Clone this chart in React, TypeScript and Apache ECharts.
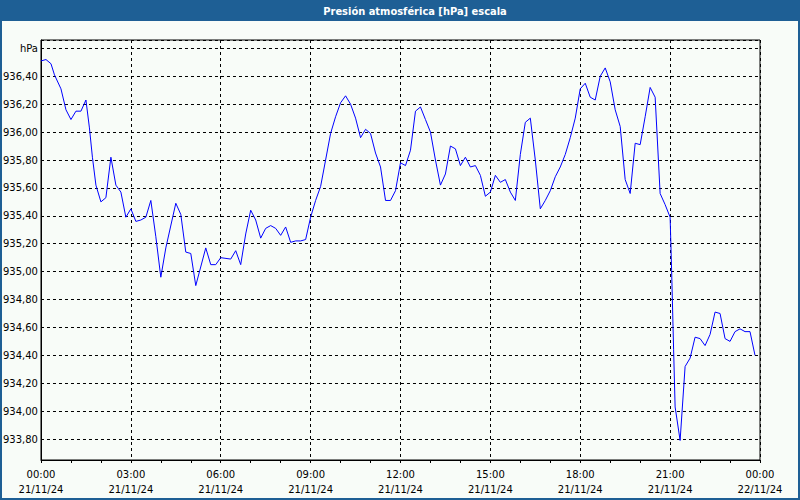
import React, { useEffect, useRef } from "react";
import * as echarts from "echarts";

const TITLE = "Presión atmosférica [hPa] escala";
const UNIT = "hPa";

// minutes since 21/11/24 00:00
const minutes: number[] = [
  0, 10, 20, 27, 40, 50, 60, 70, 80, 90, 97, 103, 110, 120, 130, 140, 150, 160, 170, 180,
  190, 200, 210, 220, 230, 240, 250, 270, 280, 290, 300, 310, 330, 340, 350, 360, 380, 390, 400, 410,
  420, 430, 440, 450, 460, 470, 480, 490, 500, 510, 520, 530, 540, 550, 560, 570, 580, 590, 600, 610,
  620, 630, 640, 650, 660, 670, 680, 690, 700, 710, 720, 730, 740, 750, 760, 770, 780, 790, 800, 810,
  820, 830, 840, 850, 860, 870, 880, 890, 900, 910, 920, 930, 940, 950, 960, 970, 980, 990, 1000, 1010,
  1020, 1030, 1040, 1050, 1060, 1070, 1080, 1090, 1100, 1110, 1120, 1130, 1140, 1150, 1160, 1170, 1180, 1190, 1200, 1210,
  1220, 1230, 1240, 1250, 1260, 1263, 1267, 1270, 1280, 1290, 1300, 1310, 1320, 1330, 1340, 1350, 1360, 1370, 1380, 1390,
  1400, 1410, 1420, 1430,
];

const pressure: number[] = [
  936.51, 936.52, 936.49, 936.41, 936.31, 936.16, 936.09, 936.15, 936.15, 936.23, 936.03, 935.82, 935.62, 935.5, 935.53, 935.82, 935.62, 935.57, 935.39, 935.45,
  935.36, 935.37, 935.39, 935.51, 935.25, 934.96, 935.17, 935.49, 935.41, 935.14, 935.13, 934.9, 935.17, 935.05, 935.05, 935.1, 935.09, 935.15, 935.05, 935.27,
  935.44, 935.37, 935.24, 935.31, 935.33, 935.31, 935.26, 935.32, 935.21, 935.22, 935.22, 935.23, 935.39, 935.51, 935.61, 935.8, 935.99, 936.11, 936.21, 936.26,
  936.2, 936.1, 935.96, 936.02, 935.99, 935.85, 935.75, 935.51, 935.51, 935.58, 935.78, 935.76, 935.87, 936.15, 936.18, 936.09, 936.0, 935.8, 935.62, 935.7,
  935.9, 935.88, 935.76, 935.82, 935.75, 935.76, 935.69, 935.54, 935.57, 935.69, 935.64, 935.66, 935.57, 935.51, 935.84, 936.07, 936.1, 935.8, 935.45, 935.51,
  935.58, 935.68, 935.75, 935.84, 935.96, 936.1, 936.31, 936.35, 936.25, 936.23, 936.4, 936.46, 936.36, 936.16, 936.04, 935.66, 935.56, 935.92, 935.91, 936.11,
  936.32, 936.25, 935.56, 935.48, 935.39, 935.01, 934.44, 934.03, 933.79, 934.32, 934.38, 934.53, 934.52, 934.47, 934.55, 934.71, 934.7, 934.52, 934.5, 934.57,
  934.59, 934.57, 934.57, 934.4,
];

const Y_MIN = 933.65;
const Y_MAX = 936.66;
const X_MIN = 0;
const X_MAX = 1440;
const dayLabels: string[] = ["21/11/24", "22/11/24"];

const FONT = "DejaVu Sans";
const BLUE = "#1e5f95";

export default function App() {
  const ref = useRef<HTMLDivElement>(null);
  useEffect(() => {
    if (!ref.current) return;
    const chart = echarts.init(ref.current, undefined, { renderer: "svg" });
    const data = minutes.map((m, i) => [m, pressure[i]]);
    chart.setOption({
      animation: false,
      backgroundColor: "#f8fcf8",
      graphic: [
        {
          type: "rect",
          shape: { x: 1, y: 1, width: 798, height: 498 },
          style: { fill: "none", stroke: BLUE, lineWidth: 2 },
          silent: true,
        },
        {
          type: "rect",
          shape: { x: 0, y: 0, width: 800, height: 21 },
          style: { fill: BLUE },
          silent: true,
        },
        {
          type: "text",
          x: 415,
          y: 11,
          style: {
            text: TITLE,
            fill: "#ffffff",
            font: `bold 11px "DejaVu Sans Condensed", "DejaVu Sans", sans-serif`,
            align: "center",
            verticalAlign: "middle",
          },
          silent: true,
        },
      ],
      grid: {
        left: 40,
        right: 40,
        top: 40,
        bottom: 40,
        show: true,
        borderColor: "#000",
        borderWidth: 1,
        backgroundColor: "transparent",
      },
      xAxis: {
        type: "value",
        min: X_MIN,
        max: X_MAX,
        interval: 180,
        axisLine: { show: true, lineStyle: { color: "#000", width: 1 } },
        axisTick: { show: true, length: 3, lineStyle: { color: "#000" } },
        minorTick: { show: true, splitNumber: 3, length: 3, lineStyle: { color: "#000" } },
        splitLine: { show: true, lineStyle: { color: "#000", type: [3, 3], width: 1 } },
        axisLabel: {
          fontFamily: FONT,
          fontSize: 10,
          color: "#000",
          lineHeight: 15,
          margin: 7,
          showMinLabel: true,
          showMaxLabel: true,
          formatter: (v: number) => {
            const day = Math.floor(v / 1440);
            const mm = v % 1440;
            const h = Math.floor(mm / 60);
            const m = mm % 60;
            const hh = String(h).padStart(2, "0") + ":" + String(m).padStart(2, "0");
            return hh + "\n" + dayLabels[Math.min(day, dayLabels.length - 1)];
          },
        },
      },
      yAxis: {
        type: "value",
        min: Y_MIN,
        max: Y_MAX,
        splitNumber: 15,
        axisLine: { show: true, lineStyle: { color: "#000", width: 1 } },
        axisTick: { show: false },
        splitLine: { show: true, lineStyle: { color: "#000", type: [3, 3], width: 1 } },
        axisLabel: {
          fontFamily: FONT,
          fontSize: 10,
          color: "#000",
          margin: 3,
          showMinLabel: false,
          showMaxLabel: false,
          formatter: (v: number) => {
            const r = Math.round(v * 5) / 5;
            if (Math.abs(v - r) > 1e-6) return "";
            if (Math.abs(r - 936.6) < 1e-6) return UNIT;
            return r.toFixed(2).replace(".", ",");
          },
        },
      },
      series: [
        {
          type: "line",
          data,
          showSymbol: false,
          symbol: "none",
          lineStyle: { color: "#0000ff", width: 1 },
          itemStyle: { color: "#0000ff" },
          clip: true,
        },
      ],
    });
    return () => chart.dispose();
  }, []);
  return (
    <div
      ref={ref}
      style={{ position: "absolute", left: 0, top: 0, width: 800, height: 500 }}
    />
  );
}
